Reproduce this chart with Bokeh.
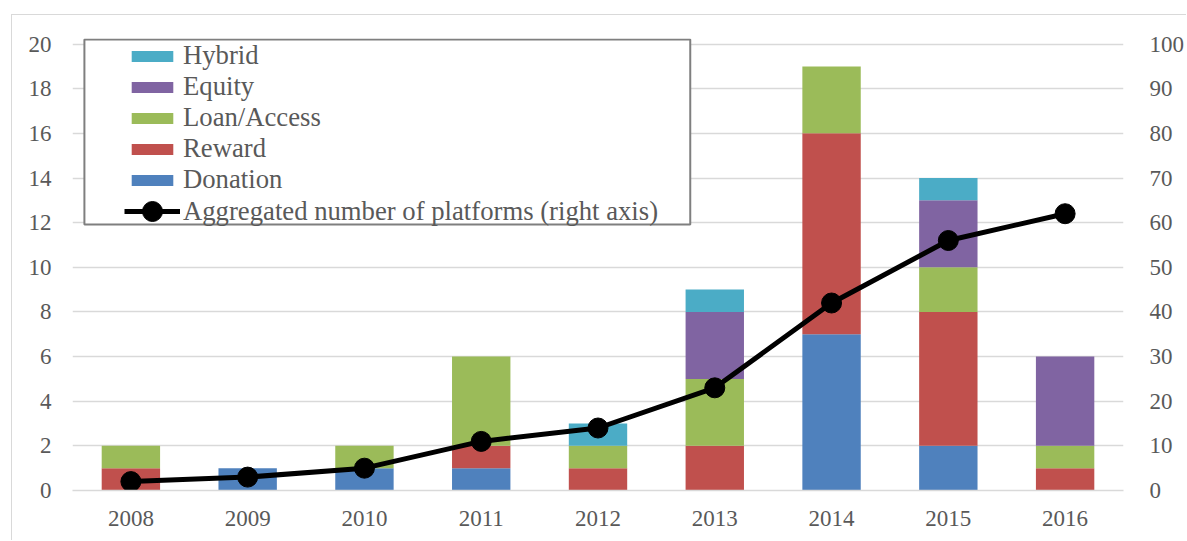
from bokeh.plotting import figure
from bokeh.models import (BoxAnnotation, Legend, LegendItem, LinearAxis, Range1d,
                          FixedTicker, FactorRange, ColumnDataSource)
from bokeh.embed import file_html
from bokeh.resources import INLINE

# ---- data ----
years = ["2008", "2009", "2010", "2011", "2012", "2013", "2014", "2015", "2016"]
donation = [0, 1, 1, 1, 0, 0, 7, 2, 0]
reward = [1, 0, 0, 1, 1, 2, 9, 6, 1]
loan_access = [1, 0, 1, 4, 1, 3, 3, 2, 1]
equity = [0, 0, 0, 0, 0, 3, 0, 3, 4]
hybrid = [0, 0, 0, 0, 1, 1, 0, 1, 0]
aggregated = [2, 3, 5, 11, 14, 23, 42, 56, 62]
left_ticks = list(range(0, 21, 2))
right_ticks = list(range(0, 101, 10))

series = ["Donation", "Reward", "Loan/Access", "Equity", "Hybrid"]
colors = ["#4f81bd", "#c0504d", "#9bbb59", "#8064a2", "#4bacc6"]

source = ColumnDataSource(dict(year=years, Donation=donation, Reward=reward,
                               **{"Loan/Access": loan_access}, Equity=equity,
                               Hybrid=hybrid, aggregated=aggregated))

FONT = "Liberation Serif"
TXT = "#595959"

# figure sits at page (11,14) with a 1px light border on left/top
p = figure(x_range=FactorRange(*years), y_range=Range1d(0, 20.25),
           width=1175, height=526, output_backend="svg", toolbar_location=None,
           min_border_left=60, min_border_right=60, min_border_top=23,
           min_border_bottom=51)
p.styles = {"margin-left": "11px", "margin-top": "14px",
            "border-left": "1px solid #d9d9d9", "border-top": "1px solid #d9d9d9"}
p.extra_y_ranges = {"right": Range1d(0, 101.25)}
p.outline_line_color = None
p.background_fill_color = "white"
p.border_fill_color = "white"

bars = p.vbar_stack(series, x="year", width=0.5, source=source, color=colors,
                    line_color=None)

ln = p.line("year", "aggregated", source=source, y_range_name="right",
            line_width=5, color="black", line_join="round")
mk = p.scatter("year", "aggregated", source=source, y_range_name="right",
               size=20, color="black")

# axes
p.yaxis.ticker = FixedTicker(ticks=left_ticks)
right_axis = LinearAxis(y_range_name="right", ticker=FixedTicker(ticks=right_ticks))
p.add_layout(right_axis, "right")

for ax in [p.yaxis[0], right_axis]:
    ax.axis_line_color = None
    ax.major_tick_line_color = None
    ax.minor_tick_line_color = None
    ax.major_label_text_font = FONT
    ax.major_label_text_font_size = "23px"
    ax.major_label_text_color = TXT
p.yaxis[0].major_label_standoff = 15
right_axis.major_label_standoff = 20

xa = p.xaxis[0]
xa.axis_line_color = "#d9d9d9"
xa.axis_line_width = 1.5
xa.major_tick_line_color = None
xa.minor_tick_line_color = None
xa.major_label_text_font = FONT
xa.major_label_text_font_size = "23px"
xa.major_label_text_color = TXT
xa.major_label_standoff = 14

p.xgrid.visible = False
p.ygrid.grid_line_color = "#d9d9d9"
p.ygrid.grid_line_width = 1.5

# legend frame (data units: synthetic factor coords / left-axis values)
box = BoxAnnotation(left=0.102, right=5.29, top=20.2, bottom=11.92,
                    fill_color="white", fill_alpha=1,
                    line_color="#7f7f7f", line_alpha=1, line_width=2)
p.add_layout(box)

by_name = dict(zip(series, bars))
items = [LegendItem(label=n, renderers=[by_name[n]]) for n in
         ["Hybrid", "Equity", "Loan/Access", "Reward", "Donation"]]
common = dict(orientation="vertical", border_line_alpha=0, background_fill_alpha=0,
              padding=0, margin=0, label_text_font=FONT,
              label_text_font_size="26.7px", label_text_color=TXT)
legend = Legend(items=items, location=(54, 295), spacing=0,
                glyph_width=52, glyph_height=14, label_height=29,
                label_standoff=5, **common)
p.add_layout(legend)

legend2 = Legend(items=[LegendItem(label="Aggregated number of platforms (right axis)",
                                   renderers=[ln, mk])],
                 location=(52, 254), glyph_width=56, glyph_height=50,
                 label_height=29, label_standoff=3, **common)
p.add_layout(legend2)

open("out.html", "w").write(file_html(p, INLINE))
